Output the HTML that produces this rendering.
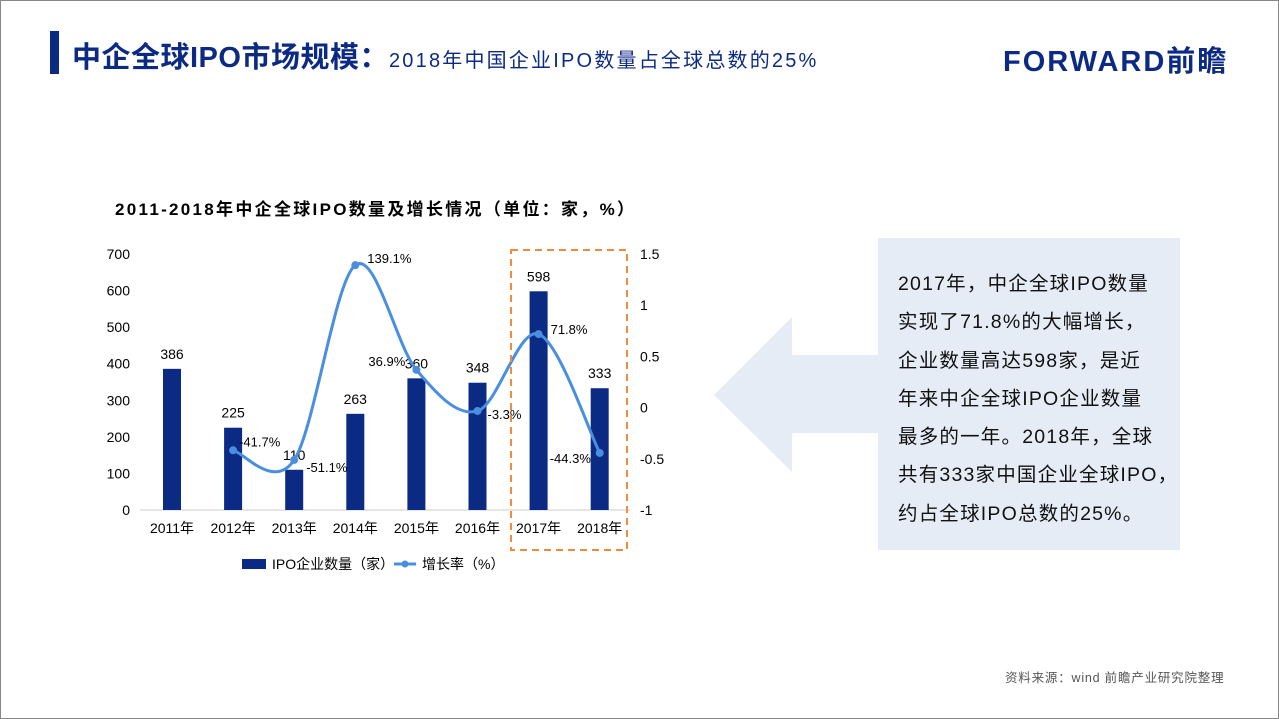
<!DOCTYPE html>
<html><head><meta charset="utf-8">
<style>
body{margin:0;width:1279px;height:719px;background:#fff;font-family:"Liberation Sans","Noto Sans CJK SC",sans-serif;overflow:hidden;position:relative}
.abs{position:absolute}
</style></head><body>
<div class="abs" style="left:0;top:0;width:1277px;height:717px;border:1px solid #888"></div>
<div class="abs" style="left:50px;top:31px;width:9px;height:43px;background:#0b2a84"></div>
<div class="abs" style="left:72px;top:34px;white-space:nowrap;color:#0b2a84">
<span style="font-size:29px;font-weight:bold;letter-spacing:0.5px">中企全球IPO市场规模：</span><span style="font-size:20px;letter-spacing:2.2px">2018年中国企业IPO数量占全球总数的25%</span></div>
<div class="abs" style="left:1003px;top:38px;font-size:29px;font-weight:bold;color:#0b2a84;letter-spacing:2px">FORWARD前瞻</div>
<div class="abs" style="left:115px;top:195px;font-size:17px;font-weight:bold;color:#000;white-space:nowrap;letter-spacing:2.3px">2011-2018年中企全球IPO数量及增长情况（单位：家，%）</div>

<svg class="abs" style="left:0;top:0" width="1279" height="719">
<g id="g"></g>
<polygon points="714,395 792,317 792,355 878,355 878,433 792,433 792,472" fill="#e6ecf6"/>
<rect x="878" y="238" width="302" height="312" fill="#e6ecf6"/>
</svg>
<div class="abs" style="left:898px;top:265px;width:290px;font-size:19.5px;line-height:38.3px;color:#111;white-space:nowrap;letter-spacing:1.2px">2017年，中企全球IPO数量<br>实现了71.8%的大幅增长，<br>企业数量高达598家，是近<br>年来中企全球IPO企业数量<br>最多的一年。2018年，全球<br>共有333家中国企业全球IPO，<br>约占全球IPO总数的25%。</div>
<div class="abs" style="left:1005px;top:667px;font-size:12.5px;color:#555;letter-spacing:0.8px">资料来源：wind 前瞻产业研究院整理</div>

<script>
const categories=["2011年","2012年","2013年","2014年","2015年","2016年","2017年","2018年"];
const counts=[386,225,110,263,360,348,598,333];
const growth=[null,-0.417,-0.511,1.391,0.369,-0.033,0.718,-0.443];
const growthLabels=["","-41.7%","-51.1%","139.1%","36.9%","-3.3%","71.8%","-44.3%"];
const leftTicks=[0,100,200,300,400,500,600,700];
const rightTicks=[-1,-0.5,0,0.5,1,1.5];
const rightTickLabels=["-1","-0.5","0","0.5","1","1.5"];
const NS="http://www.w3.org/2000/svg",g=document.getElementById('g');
const x=i=>172+i*61.1, yL=v=>510-v*256/700, yR=v=>510-(v+1)*256/2.5;
function mk(t,a,txt){const e=document.createElementNS(NS,t);for(const k in a)e.setAttribute(k,a[k]);if(txt!==undefined)e.textContent=txt;g.appendChild(e);return e;}
let ax=mk('line',{x1:140,x2:630,y1:510,y2:510,stroke:'#ccc'});

leftTicks.forEach(v=>{const t=mk('text',{x:130,y:yL(v)+5,'text-anchor':'end','font-size':14,fill:'#000'},v);
});
rightTicks.forEach((v,i)=>{const t=mk('text',{x:640,y:yR(v)+5,'font-size':14,fill:'#000'},rightTickLabels[i]);
});
categories.forEach((c,i)=>{const t=mk('text',{x:x(i),y:533,'text-anchor':'middle','font-size':14,fill:'#000'},c);

const b=mk('rect',{x:x(i)-9,y:yL(counts[i]),width:18,height:510-yL(counts[i]),fill:'#0b2a84'});

const l=mk('text',{x:x(i),y:yL(counts[i])-10,'text-anchor':'middle','font-size':14,fill:'#000'},counts[i]);
});
const pts=[];growth.forEach((v,i)=>{if(v!==null)pts.push([x(i),yR(v)]);});
let d='M'+pts[0];for(let i=0;i<pts.length-1;i++){const p0=pts[i-1]||pts[i],p1=pts[i],p2=pts[i+1],p3=pts[i+2]||p2;
d+=' C'+(p1[0]+(p2[0]-p0[0])/6)+','+(p1[1]+(p2[1]-p0[1])/6)+' '+(p2[0]-(p3[0]-p1[0])/6)+','+(p2[1]-(p3[1]-p1[1])/6)+' '+p2[0]+','+p2[1];}
const ln=mk('path',{d:d,fill:'none',stroke:'#4a8fdf','stroke-width':3});

const off={1:[6,-4],2:[12,12],3:[12,-2],4:[-48,-4],5:[10,8],6:[12,0],7:[-50,10]};
growth.forEach((v,i)=>{if(v===null)return;
const c=mk('circle',{cx:x(i),cy:yR(v),r:4,fill:'#4a8fdf'});
const t=mk('text',{x:x(i)+off[i][0],y:yR(v)+off[i][1],'font-size':13,fill:'#000'},growthLabels[i]);
});
const hl=mk('rect',{x:511,y:250,width:116,height:300,fill:'none',stroke:'#f08a3c','stroke-width':2,'stroke-dasharray':'7,5'});

const lg1=mk('rect',{x:242,y:559,width:24,height:10,fill:'#0b2a84'});
const lt1=mk('text',{x:272,y:569,'font-size':14,fill:'#000'},'IPO企业数量（家）');
const lg2=mk('line',{x1:394,x2:416,y1:564,y2:564,stroke:'#4a8fdf','stroke-width':3});
const lg3=mk('circle',{cx:405,cy:564,r:3.5,fill:'#4a8fdf'});
const lt2=mk('text',{x:422,y:569,'font-size':14,fill:'#000'},'增长率（%）');
</script>
</body></html>
